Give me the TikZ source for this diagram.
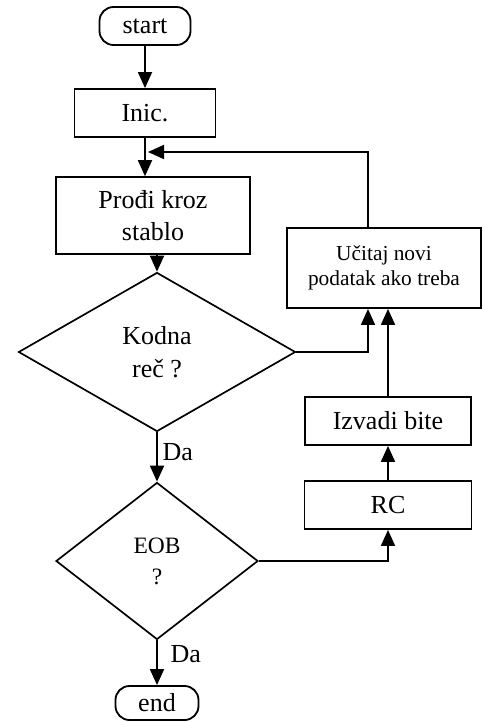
\documentclass[tikz,border=0pt]{standalone}
\usepackage{fontspec}
\setmainfont{Liberation Serif}
\usetikzlibrary{shapes.geometric,arrows.meta}

\begin{document}
\begin{tikzpicture}[font=\fontsize{18.5}{23}\selectfont,
    box/.style={draw,line width=1.3pt,align=center,inner sep=2pt},
    term/.style={box,rounded corners=0.35cm},
    decision/.style={draw,diamond,line width=1.2pt,align=center,inner sep=0pt},
    arr/.style={-{Triangle[length=0.4cm,width=0.35cm]},line width=1.3pt}]
    \useasboundingbox (0,0) rectangle (12.075,-18.05);
    \node [term,minimum width=2.275cm,minimum height=0.95cm] (start) at (3.625,-0.65){start};
    \node [box,minimum width=3.525cm,minimum height=1.2cm] (inic) at (3.625,-2.825){Inic.};
    \node [box,minimum width=4.85cm,minimum height=1.925cm] (prodji) at (3.825,-5.39){Prođi kroz\\stablo};
    \node [decision,minimum width=6.925cm,minimum height=3.975cm] (kodna) at (3.925,-8.8){Kodna\\reč ?};
    \node [decision,minimum width=5.05cm,minimum height=3.925cm,font=\fontsize{16.7}{22}\selectfont] (eob) at (3.925,-14.025){EOB\\?};
    \node [term,minimum width=2.075cm,minimum height=0.85cm] (end) at (3.925,-17.575){end};
    \node [box,minimum width=4.85cm,minimum height=2cm,font=\fontsize{15.2}{18}\selectfont] (ucitaj) at (9.6,-6.7){Učitaj novi\\podatak ako treba};
    \node [box,minimum width=4.15cm,minimum height=1.2cm] (izvadi) at (9.7,-10.525){Izvadi bite};
    \node [box,minimum width=4.175cm,minimum height=1.2cm] (rc) at (9.7,-12.625){RC};
    \coordinate (merge) at (3.7,-3.8);

    \draw [arr] (start) -- (inic);
    \draw [arr] (inic) -- (inic |- prodji.north);
    \draw [arr] (kodna.north |- prodji.south) -- (kodna.north);
    \draw [arr] (kodna) -- node [pos=0.4,right]{Da} (eob);
    \draw [arr] (eob) -- node [pos=0.3,right,xshift=0.2cm]{Da} (end);
    \draw [arr] (kodna.east) -| ([xshift=-0.4cm]ucitaj.south);
    \draw [arr] (izvadi.north) -- (izvadi.north |- ucitaj.south);
    \draw [arr] (rc) -- (izvadi);
    \draw [arr] (eob.east) -| (rc.south);
    \draw [arr] ([xshift=-0.4cm]ucitaj.north) |- (merge);
\end{tikzpicture}
\end{document}
